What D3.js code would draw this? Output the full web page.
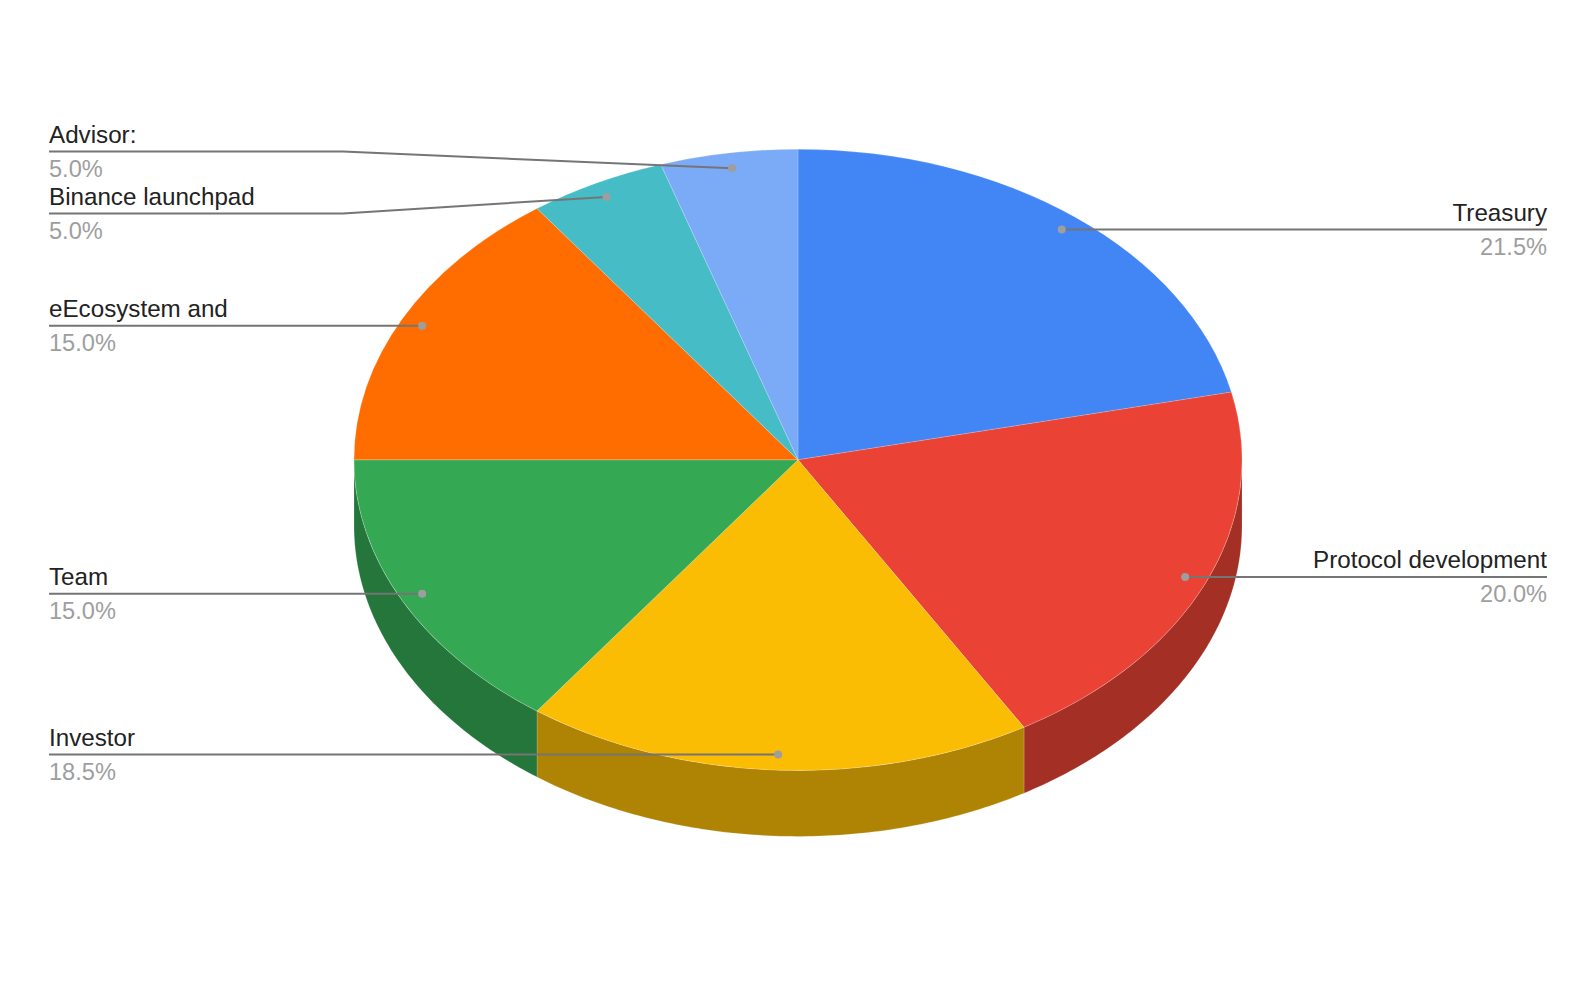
<!DOCTYPE html>
<html><head><meta charset="utf-8">
<script src="https://cdn.jsdelivr.net/npm/d3@7/dist/d3.min.js"></script>
<style>html,body{margin:0;padding:0;background:#fff}svg{display:block}text{font-family:"Liberation Sans",Arial,sans-serif}</style>
</head><body><svg id="c" width="1596" height="986"></svg>
<script>
const categories=["Treasury","Protocol development","Investor","Team","eEcosystem and","Binance launchpad","Advisor:"];
const values=[21.5,20,18.5,15,15,5,5];
const valueLabels=["21.5%","20.0%","18.5%","15.0%","15.0%","5.0%","5.0%"];
const colors=["#4285f4","#ea4335","#fbbc04","#34a853","#ff6d01","#46bdc6","#7baaf7"];
const sideColors=["#2e5dab","#a32f25","#af8303","#25763a","#b24c00","#31848a","#5676ac"];

const cx=798,cy=459.8,rx=444,ry=310.6,depth=66;
const svg=d3.select("#c");
const sx=d3.scaleLinear().domain([-1,1]).range([cx-rx,cx+rx]);
const sy=d3.scaleLinear().domain([-1,1]).range([cy-ry,cy+ry]);
const px=(a,r=1)=>sx(r*Math.sin(a)), py=(a,r=1)=>sy(-r*Math.cos(a));
const arcs=d3.pie().sort(null).value(d=>d)(values);

// side walls: the part of each slice lying on the lower half of the ellipse
const wall=[];
arcs.forEach((d,i)=>{
  const a0=Math.max(d.startAngle,Math.PI/2), a1=Math.min(d.endAngle,Math.PI*1.5);
  if(a1<=a0) return;
  const n=Math.ceil((a1-a0)*80);
  const angles=d3.range(0,n+1).map(k=>a0+(a1-a0)*k/n);
  const p=d3.path();
  p.moveTo(px(a0),py(a0));
  angles.forEach(a=>p.lineTo(px(a),py(a)+depth));
  angles.slice().reverse().forEach(a=>p.lineTo(px(a),py(a)));
  p.closePath();
  wall.push({path:p.toString(),fill:sideColors[i]});
});
svg.append("g").selectAll("path").data(wall).join("path").attr("d",d=>d.path).attr("fill",d=>d.fill)
  .attr("stroke","#fff").attr("stroke-opacity",.3).attr("stroke-width",.6);

// top face
const unitArc=d3.arc().innerRadius(0).outerRadius(1);
svg.append("g").attr("transform",`translate(${cx},${cy}) scale(${rx},${ry})`)
  .selectAll("path").data(arcs).join("path").attr("d",unitArc).attr("fill",(d,i)=>colors[i])
  .attr("stroke","#fff").attr("stroke-opacity",.3).attr("stroke-width",.6).attr("vector-effect","non-scaling-stroke");

// leader lines and labels
const anchorR=0.95,leftX=49,rightX=1547,elbowX=343;
const liftedRule={5:213.5,6:151.5};
const g=svg.append("g");
arcs.forEach((d,i)=>{
  const m=(d.startAngle+d.endAngle)/2, ax=px(m,anchorR), ay=py(m,anchorR);
  const right=m<Math.PI, ex=right?rightX:leftX;
  const ly=liftedRule[i]??ay;
  const pts=ly===ay?[[ex,ly],[ax,ay]]:[[ex,ly],[elbowX,ly],[ax,ay]];
  g.append("path").attr("d",d3.line()(pts)).attr("fill","none").attr("stroke","#757575").attr("stroke-width",2);
  g.append("circle").attr("cx",ax).attr("cy",ay).attr("r",4).attr("fill","#9e9e9e");
  const anchor=right?"end":"start";
  g.append("text").attr("x",ex).attr("y",ly-8.6).attr("text-anchor",anchor).attr("font-size",24.2).attr("fill","#222").text(categories[i]);
  g.append("text").attr("x",ex).attr("y",ly+25.4).attr("text-anchor",anchor).attr("font-size",23.6).attr("fill","#9e9e9e").text(valueLabels[i]);
});
</script></body></html>
